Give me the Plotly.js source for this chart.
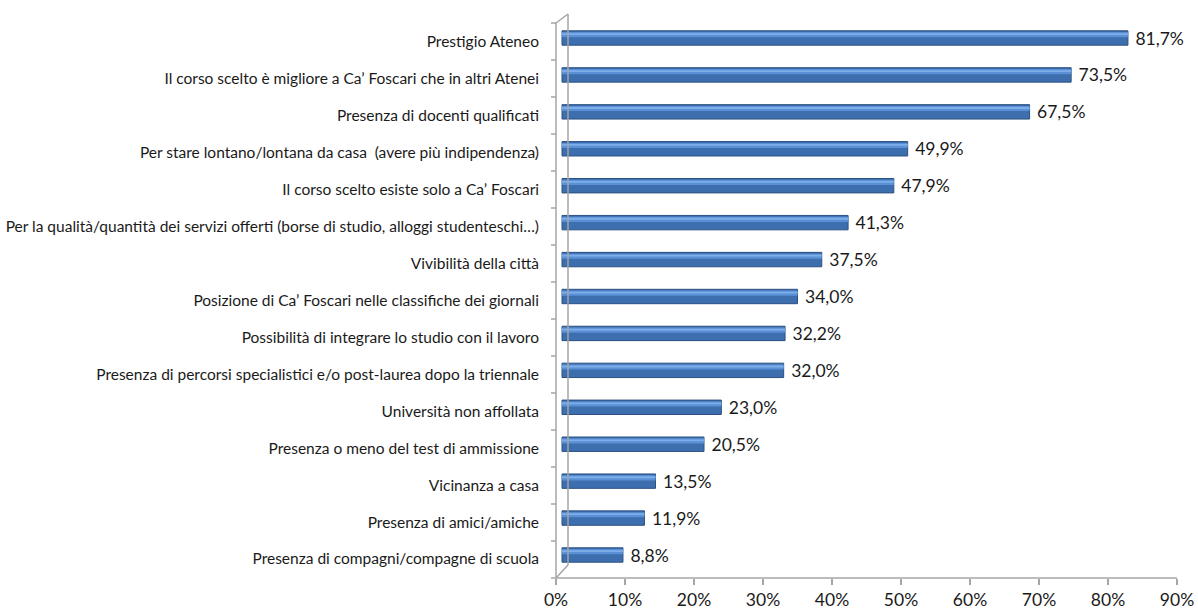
<!DOCTYPE html>
<html>
<head>
<meta charset="utf-8">
<script src="https://cdn.plot.ly/plotly-3.0.1.min.js"></script>
<style>html,body{margin:0;padding:0;background:#fff;}#chart{width:1198px;height:615px;}</style>
</head>
<body>
<div id="chart"></div>
<script>
// ---- data ----
const categories = [
  "Prestigio Ateneo",
  "Il corso scelto è migliore a Ca’ Foscari che in altri Atenei",
  "Presenza di docenti qualificati",
  "Per stare lontano/lontana da casa  (avere più indipendenza)",
  "Il corso scelto esiste solo a Ca’ Foscari",
  "Per la qualità/quantità dei servizi offerti (borse di studio, alloggi studenteschi…)",
  "Vivibilità della città",
  "Posizione di Ca’ Foscari nelle classifiche dei giornali",
  "Possibilità di integrare lo studio con il lavoro",
  "Presenza di percorsi specialistici e/o post-laurea dopo la triennale",
  "Università non affollata",
  "Presenza o meno del test di ammissione",
  "Vicinanza a casa",
  "Presenza di amici/amiche",
  "Presenza di compagni/compagne di scuola"
];
const values = [81.7, 73.5, 67.5, 49.9, 47.9, 41.3, 37.5, 34.0, 32.2, 32.0, 23.0, 20.5, 13.5, 11.9, 8.8];
const tickValues = [0, 10, 20, 30, 40, 50, 60, 70, 80, 90];
const tickLabels = ["0%", "10%", "20%", "30%", "40%", "50%", "60%", "70%", "80%", "90%"];

const labels = values.map(v => " " + v.toFixed(1).replace(".", ",") + "%");

// ---- geometry (pixels) ----
const W = 1198, H = 615;
const L = 556, R = 1185, T = 14, B = 578;
const pw = R - L, ph = B - T;
const xp = px => (px - L) / pw;
const yp = py => (B - py) / ph;

const FONT = "Lato, 'Open Sans', sans-serif";
const gray = "#A6A6A6";

const base = {
  type: "bar", orientation: "h", y: categories, x: values,
  hoverinfo: "skip", xaxis: "x", yaxis: "y"
};

const traces = [
  Object.assign({}, base, {
    width: 0.39,
    marker: {color: "#3D6EAE", line: {color: "#2C5080", width: 1}},
    text: labels, textposition: "outside", cliponaxis: false,
    constraintext: "none",
    textfont: {family: FONT, size: 17.5, color: "#1a1a1a"}
  }),
  Object.assign({}, base, {
    width: 0.14, offset: -0.16,
    marker: {color: "#5A90D6", line: {width: 0}},
    textposition: "none"
  }),
  Object.assign({}, base, {
    width: 0.05, offset: -0.13,
    marker: {color: "#7DAEE9", line: {width: 0}},
    textposition: "none"
  })
];

// shapes: 3D frame lines
const shapes = [];
const line = (x0, y0, x1, y1) => shapes.push({
  type: "line", xref: "paper", yref: "paper",
  x0: xp(x0), y0: yp(y0), x1: xp(x1), y1: yp(y1),
  line: {color: gray, width: 1.5}
});
line(556, 23, 556, 578);       // front left wall edge
line(556, 23, 568, 14);        // top diagonal
line(568, 14, 568, 565);       // back wall edge
line(556, 578, 568, 565);      // bottom diagonal
const step = (578 - 23) / categories.length;
for (let k = 0; k <= categories.length; k++) {
  const y = 23 + step * k;
  line(551, y, 556, y);
}
shapes.push({
  type: "line", xref: "x2", yref: "paper",
  x0: tickValues[0], x1: tickValues[tickValues.length - 1], y0: 0, y1: 0,
  line: {color: gray, width: 1.5}
});

// bar axis: 0 at 562 px, 6.927 px per %
const pxPer = 6.927;
const xr0 = (L - 562) / pxPer, xr1 = (R - 562) / pxPer;
// tick axis: 0 at 556 px, 6.9 px per %
const tPer = 6.9;
const tr0 = (L - 556) / tPer, tr1 = (R - 556) / tPer;

// category axis: first center at 38 px, last at 555 px
const cStep = (555 - 38) / (categories.length - 1);
const yTop = 0 - (38 - T) / cStep;
const yBot = (categories.length - 1) + (B - 555) / cStep;

const layout = {
  width: W, height: H,
  margin: {l: L, r: W - R, t: T, b: H - B, pad: 0},
  paper_bgcolor: "#fff", plot_bgcolor: "#fff",
  showlegend: false, barmode: "overlay",
  font: {family: FONT, color: "#1a1a1a"},
  xaxis: {
    range: [xr0, xr1], visible: false, fixedrange: true
  },
  xaxis2: {
    overlaying: "x", anchor: "y", side: "bottom",
    range: [tr0, tr1],
    tickmode: "array", tickvals: tickValues, ticktext: tickLabels,
    ticks: "outside", ticklen: 6, tickwidth: 1.5, tickcolor: gray,
    showline: false, showgrid: false, zeroline: false,
    tickfont: {family: FONT, size: 17.5, color: "#1a1a1a"}
  },
  yaxis: {
    type: "category", categoryorder: "array", categoryarray: categories,
    range: [yBot, yTop],
    showline: false, showgrid: false, zeroline: false, ticks: "",
    ticklabelstandoff: 16, ticklabelshift: -4,
    tickfont: {family: FONT, size: 15.5, color: "#1a1a1a"}
  },
  shapes: shapes
};

Plotly.newPlot("chart", traces, layout, {displayModeBar: false, staticPlot: true});
</script>
</body>
</html>
